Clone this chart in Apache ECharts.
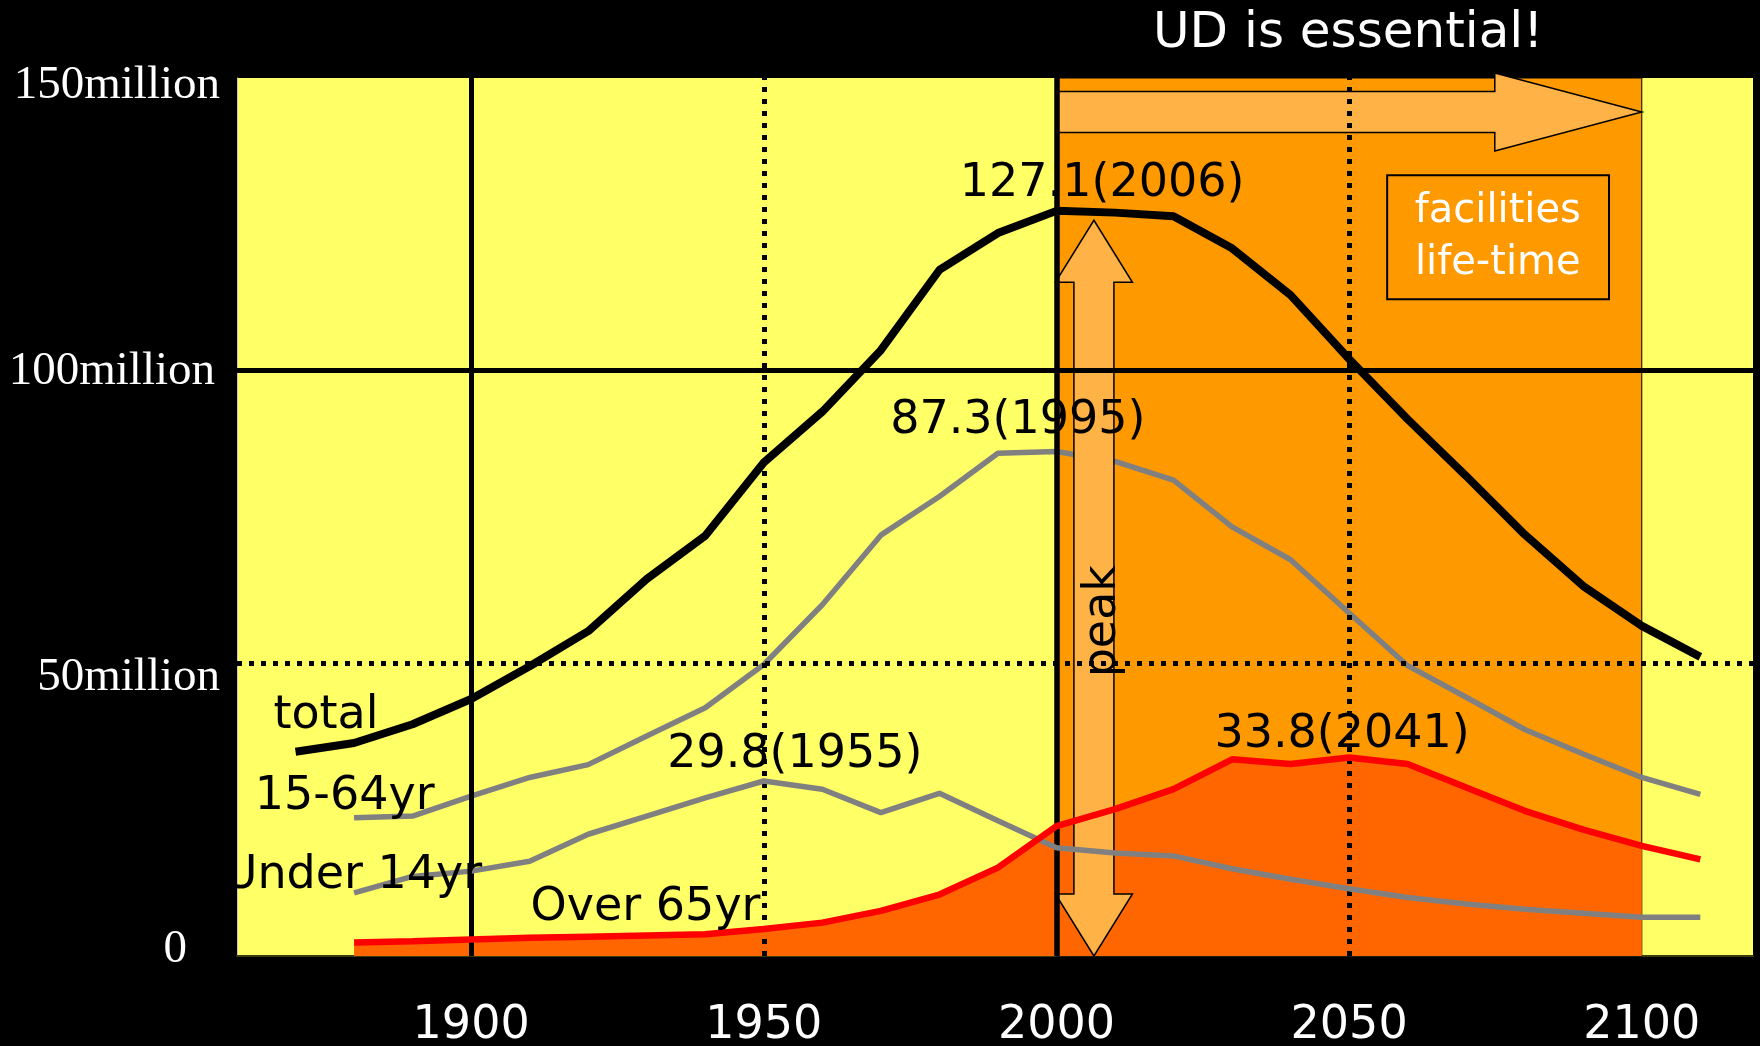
<!DOCTYPE html>
<html>
<head>
<meta charset="utf-8">
<script src="https://cdn.jsdelivr.net/npm/echarts@6/dist/echarts.min.js"></script>
<style>
html,body{margin:0;padding:0;background:#000;}
#chart{width:1760px;height:1046px;}
</style>
</head>
<body>
<div id="chart"></div>
<script>
// ---------- data (millions of people) ----------
const years      = [1870,1880,1890,1900,1910,1920,1930,1940,1950,1960,1970,1980,1990,2000,2010,2020,2030,2040,2050,2060,2070,2080,2090,2100,2110];
const total      = [34.9,36.4,39.6,43.9,49.5,55.5,64.4,71.8,84.3,93.0,103.5,117.2,123.5,127.3,127.0,126.4,120.9,112.9,102.0,91.7,82.0,72.0,63.2,56.4,51.1];
const age15to64  = [null,23.6,23.9,27.3,30.5,32.7,37.6,42.4,49.8,60.0,71.9,78.5,85.9,86.2,84.5,81.3,73.3,67.7,58.6,49.6,44.2,38.7,34.5,30.5,27.6];
const under14    = [null,10.8,13.6,14.5,16.2,20.8,23.9,27.0,29.9,28.5,24.5,27.8,23.1,18.5,17.6,17.1,14.9,13.1,11.5,10.0,8.9,8.0,7.3,6.6,6.6];
const over65     = [null,2.3,2.5,2.8,3.1,3.3,3.5,3.7,4.6,5.7,7.7,10.5,15.1,22.2,25.1,28.5,33.6,32.8,33.9,32.8,28.8,24.8,21.6,18.8,16.5];

const xTickLabels = [1900,1950,2000,2050,2100];
const yTickLabels = {0:'0', 50:'50million', 100:'100million', 150:'150million'};
const titleText = 'UD is essential!';
const boxLines = ['facilities','life-time'];
const calloutTexts = ['total','15-64yr','Under 14yr','Over 65yr','29.8(1955)','87.3(1995)','127.1(2006)','33.8(2041)','peak'];

// ---------- layout of annotations (data space: [year, million]) ----------
const calloutAnchors = [[1875.2,41.0],[1878.4,27.1],[1901.9,13.7],[1929.8,8.2],[1955.3,34.4],[1993.4,91.4],[2007.8,131.8],[2048.8,37.7],[2007.9,57.2]];
const calloutAlign   = ['center','center','right','center','center','center','center','center','center'];
const zoneYears = [2000, 2100];
const hArrow = {from:2000, to:2100, center:144.2, shaftHalf:20.5, headHalf:39, headLen:147};
const vArrow = {year:2006.4, top:125.7, bottom:0, shaftHalf:20, headHalf:38.5, headLen:62};
const box = {x0:2056.5, y0:133.4, x1:2094.4, y1:112.2, line1:[2075.4,127.2], line2:[2075.4,118.3]};

// ---------- styles ----------
const SANS = '"DejaVu Sans"';
const SERIF = '"Liberation Serif"';
const C = {bg:'#000000', yellow:'#FFFF66', orange:'#FF9900', deep:'#FF6600', arrow:'#FFB347', gray:'#808080', red:'#FF0000'};
const DOT = [5,7];

function pairs(arr, maxYear){
  const out = [];
  years.forEach((y,i)=>{ if(arr[i]!=null && (maxYear==null || y<=maxYear)) out.push([y, arr[i]]); });
  return out;
}

function renderArrows(params, api){
  const hl = api.coord([hArrow.from, hArrow.center]);
  const ht = api.coord([hArrow.to, hArrow.center]);
  const cy = hl[1], L = hl[0], T = ht[0], HB = T - hArrow.headLen;
  const hPts = [[L,cy-hArrow.shaftHalf],[HB,cy-hArrow.shaftHalf],[HB,cy-hArrow.headHalf],[T,cy],[HB,cy+hArrow.headHalf],[HB,cy+hArrow.shaftHalf],[L,cy+hArrow.shaftHalf]];
  const vt = api.coord([vArrow.year, vArrow.top]);
  const vb = api.coord([vArrow.year, vArrow.bottom]);
  const cx = vt[0], Tp = vt[1], B = vb[1], s = vArrow.shaftHalf, h = vArrow.headHalf, hl2 = vArrow.headLen;
  const vPts = [[cx,Tp],[cx+h,Tp+hl2],[cx+s,Tp+hl2],[cx+s,B-hl2],[cx+h,B-hl2],[cx,B],[cx-h,B-hl2],[cx-s,B-hl2],[cx-s,Tp+hl2],[cx-h,Tp+hl2]];
  const b0 = api.coord([box.x0, box.y0]);
  const b1 = api.coord([box.x1, box.y1]);
  const t1 = api.coord(box.line1);
  const t2 = api.coord(box.line2);
  const txt = (p, s2)=>({type:'text', x:p[0], y:p[1], style:{text:s2, x:0, y:0, fill:'#fff', font:'40px '+SANS, textAlign:'center', textVerticalAlign:'middle', align:'center', verticalAlign:'middle'}});
  return {type:'group', children:[
    {type:'polygon', shape:{points:hPts}, style:{fill:C.arrow, stroke:'#000', lineWidth:1.5}},
    {type:'polygon', shape:{points:vPts}, style:{fill:C.arrow, stroke:'#000', lineWidth:1.5}},
    {type:'rect', shape:{x:b0[0], y:b0[1], width:b1[0]-b0[0], height:b1[1]-b0[1]}, style:{fill:C.orange, stroke:'#000', lineWidth:2}},
    txt(t1, boxLines[0]),
    txt(t2, boxLines[1])
  ]};
}

function renderCallout(params, api){
  const i = params.dataIndex;
  const p = api.coord([api.value(0), api.value(1)]);
  const isPeak = calloutTexts[i] === 'peak';
  const a = calloutAlign[i];
  return {type:'text', x:p[0], y:p[1], rotation: isPeak ? Math.PI/2 : 0,
    style:{text:calloutTexts[i], x:0, y:0, fill:'#000', font:'46px '+SANS,
      textAlign:a, textVerticalAlign:'middle', align:a, verticalAlign:'middle'}};
}

const chart = echarts.init(document.getElementById('chart'), null, {renderer:'canvas'});
const ylabStyle = {fontFamily:SERIF, fontSize:47, color:'#fff'};
chart.setOption({
  backgroundColor: C.bg,
  animation: false,
  title: {text: titleText, left: 1148, top: 4, padding: 5,
    textStyle:{color:'#fff', fontFamily:SANS, fontSize:50, fontWeight:'normal'}},
  grid: {left:237, top:78, right:7, bottom:90, show:true, backgroundColor:C.yellow, borderWidth:0,
    containLabel:false, outerBoundsMode:'none'},
  xAxis: {type:'value', min:1860, max:2119, interval:10,
    axisLine:{show:true, onZero:false, lineStyle:{color:'#3a3a10', width:2}},
    axisTick:{show:false}, splitLine:{show:false},
    axisLabel:{color:'#fff', fontFamily:SANS, fontSize:46, margin:47,
      formatter: v => xTickLabels.includes(v) ? String(v) : ''}},
  yAxis: {type:'value', min:0, max:150, interval:50,
    axisLine:{show:true, lineStyle:{color:'#c8c8c8', width:1}},
    axisTick:{show:false}, splitLine:{show:false},
    axisLabel:{margin:17, color:'#fff', fontFamily:SERIF, fontSize:47,
      formatter: v => yTickLabels[v] != null ? '{t'+v+'|'+yTickLabels[v]+'}' : '',
      rich:{
        t150: Object.assign({padding:[15,0,0,0]}, ylabStyle),
        t100: Object.assign({padding:[2,5,0,0]}, ylabStyle),
        t50:  Object.assign({padding:[28,0,0,0]}, ylabStyle),
        t0:   Object.assign({padding:[0,33,12,0]}, ylabStyle)
      }}},
  series: [
    {name:'zone', type:'line', data:[], z:1, silent:true,
      markArea:{silent:true, itemStyle:{color:C.orange, borderColor:'#000', borderWidth:1},
        data:[[{xAxis:zoneYears[0]},{xAxis:zoneYears[1]}]]}},
    {name:'Over 65yr area', type:'line', data:pairs(over65, zoneYears[1]), z:2, showSymbol:false, silent:true,
      lineStyle:{width:0}, areaStyle:{color:C.deep, opacity:1}},
    {name:'15-64yr', type:'line', data:pairs(age15to64), z:3, showSymbol:false, silent:true,
      lineStyle:{color:C.gray, width:5.5}},
    {name:'total', type:'line', data:pairs(total), z:3, showSymbol:false, silent:true,
      lineStyle:{color:'#000', width:8}},
    {name:'arrows', type:'custom', data:[[vArrow.year, 0]], z:4, silent:true, clip:false, renderItem:renderArrows},
    {name:'Under 14yr', type:'line', data:pairs(under14), z:5, showSymbol:false, silent:true,
      lineStyle:{color:C.gray, width:5.5}},
    {name:'Over 65yr', type:'line', data:pairs(over65), z:5, showSymbol:false, silent:true,
      lineStyle:{color:C.red, width:6.5}},
    {name:'grid lines', type:'line', data:[], z:6, silent:true,
      markLine:{silent:true, symbol:['none','none'], label:{show:false},
        data:[
          {xAxis:1900, lineStyle:{color:'#000', width:5, type:'solid'}},
          {xAxis:1950, lineStyle:{color:'#000', width:5, type:DOT}},
          {xAxis:2000, lineStyle:{color:'#000', width:5.5, type:'solid'}},
          {xAxis:2050, lineStyle:{color:'#000', width:5, type:DOT}},
          {yAxis:100, lineStyle:{color:'#000', width:5, type:'solid'}},
          {yAxis:50,  lineStyle:{color:'#000', width:5, type:DOT}}
        ]}},
    {name:'callouts', type:'custom', data:calloutAnchors, z:7, silent:true, clip:true, renderItem:renderCallout}
  ]
});
</script>
</body>
</html>
